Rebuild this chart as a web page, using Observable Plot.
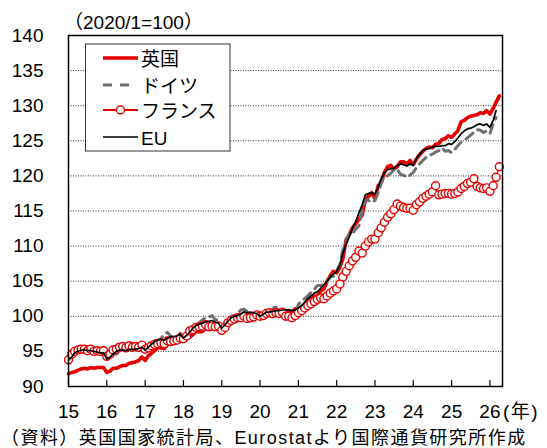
<!DOCTYPE html>
<html><head><meta charset="utf-8">
<script src="https://cdn.jsdelivr.net/npm/d3@7"></script>
<script src="https://cdn.jsdelivr.net/npm/@observablehq/plot@0.6"></script>
<style>
html,body{margin:0;padding:0;background:#fff;}
#wrap{position:relative;width:547px;height:448px;}
#wrap svg{display:block;}
#overlay{position:absolute;left:0;top:0;pointer-events:none;}
</style></head><body>
<div id="wrap"></div>
<script>
// ---- data (monthly, 2015/1 onward, 2020/1 = 100) ----
const seriesNames = ["英国", "ドイツ", "フランス", "EU"];
const yearTicks = [2015,2016,2017,2018,2019,2020,2021,2022,2023,2024,2025,2026];
const yTicks = [90,95,100,105,110,115,120,125,130,135,140];
const gridTicks = [95,100,105,110,115,120,125,130,135];
const unitLabel = "（2020/1=100）";
const yearUnit = "(年)";
const sourceNote = "（資料）英国国家統計局、Eurostatより国際通貨研究所作成";

const uk = [
  91.8, 92.0, 92.1, 92.3, 92.5, 92.6, 92.5, 92.7, 92.6, 92.7, 92.7, 92.7,
  92.0, 92.2, 92.6, 92.6, 92.8, 93.0, 93.0, 93.3, 93.4, 93.5, 93.7, 94.2,
  93.7, 94.4, 94.7, 95.1, 95.5, 95.5, 95.4, 95.9, 96.2, 96.3, 96.7, 96.9,
  96.5, 96.9, 97.0, 97.4, 97.8, 97.8, 97.8, 98.4, 98.5, 98.6, 98.9, 99.0,
  98.2, 98.7, 98.9, 99.4, 99.7, 99.7, 99.8, 100.1, 100.2, 100.1, 100.3, 100.3,
  100.0, 100.4, 100.4, 100.3, 100.3, 100.4, 100.8, 100.4, 100.8, 100.8, 100.6, 101.1,
  100.7, 100.8, 101.1, 101.8, 102.4, 102.9, 102.9, 103.6, 103.9, 105.0, 105.8, 106.4,
  106.2, 107.0, 108.2, 110.9, 111.6, 112.6, 113.2, 113.8, 114.4, 116.6, 117.1, 117.6,
  116.8, 118.6, 119.1, 120.5, 121.3, 121.5, 121.0, 121.3, 122.0, 122.0, 121.7, 122.2,
  121.6, 122.4, 123.0, 123.5, 123.9, 124.1, 124.0, 124.5, 124.6, 125.2, 125.3, 125.7,
  125.5, 126.0, 126.4, 127.7, 127.9, 128.3, 128.5, 128.6, 128.7, 129.0, 128.9, 129.3,
  128.8, 129.6, 130.5, 131.4
];
const germany = [
  93.6, 94.1, 94.6, 94.8, 95.1, 95.3, 95.8, 95.9, 95.1, 94.9, 94.6, 95.0,
  93.8, 94.1, 94.7, 94.6, 95.0, 95.3, 95.9, 96.1, 95.4, 95.3, 95.1, 95.8,
  95.4, 95.8, 96.0, 96.5, 96.6, 96.8, 97.5, 97.7, 97.2, 96.9, 96.8, 97.6,
  96.9, 97.3, 97.7, 98.0, 98.7, 99.1, 99.5, 99.8, 99.9, 100.1, 99.5, 99.5,
  98.3, 98.8, 99.2, 100.0, 100.1, 100.4, 100.9, 101.0, 100.7, 100.6, 100.0, 100.6,
  100.0, 100.4, 100.5, 101.0, 101.2, 101.3, 100.5, 100.4, 100.1, 100.1, 99.9, 100.3,
  101.7, 102.2, 102.5, 102.9, 103.4, 103.8, 104.4, 104.4, 104.5, 105.0, 105.6, 105.7,
  106.5, 107.4, 109.5, 110.6, 111.8, 111.8, 112.4, 112.9, 115.1, 116.6, 116.5, 116.2,
  116.5, 117.6, 118.9, 120.0, 120.0, 120.4, 120.9, 121.0, 120.2, 120.1, 119.8, 120.1,
  120.5, 121.2, 121.7, 122.2, 122.6, 122.9, 123.1, 123.4, 123.6, 124.0, 123.5, 123.6,
  123.3, 123.8, 124.3, 124.8, 125.1, 125.4, 125.8, 126.2, 126.6, 126.5, 126.2, 126.4,
  126.0, 127.4, 128.3, null
];
const france = [
  93.8, 94.6, 95.0, 95.2, 95.3, 95.3, 95.1, 95.3, 95.0, 95.1, 95.0, 95.1,
  94.3, 94.6, 95.2, 95.3, 95.6, 95.7, 95.5, 95.8, 95.6, 95.7, 95.6, 95.9,
  95.3, 95.5, 95.8, 96.0, 96.1, 96.2, 96.1, 96.5, 96.4, 96.5, 96.6, 96.9,
  96.8, 97.2, 97.9, 98.1, 98.4, 98.5, 98.6, 98.8, 98.5, 98.6, 98.5, 98.6,
  98.0, 98.4, 99.1, 99.4, 99.6, 99.8, 99.8, 100.0, 99.7, 99.8, 99.9, 100.2,
  100.0, 100.1, 100.4, 100.5, 100.4, 100.5, 100.4, 100.6, 100.0, 100.0, 99.8, 100.1,
  100.5, 100.8, 101.2, 101.5, 101.8, 102.1, 102.4, 102.6, 102.5, 102.9, 103.3, 103.6,
  103.9, 104.6, 105.6, 106.4, 107.2, 107.9, 108.4, 109.3, 109.0, 110.0, 110.6, 111.0,
  111.0, 111.9, 112.6, 113.4, 114.1, 114.6, 115.2, 116.0, 115.7, 115.5, 115.4, 115.4,
  115.1, 115.9, 116.3, 116.8, 117.1, 117.4, 117.7, 118.6, 117.3, 117.4, 117.5, 117.5,
  117.4, 117.5, 117.7, 118.2, 118.5, 118.9, 119.1, 119.6, 118.5, 118.3, 118.2, 118.3,
  117.8, 118.6, 119.8, 121.3
];
const eu = [
  93.7, 94.2, 94.8, 95.0, 95.2, 95.2, 95.1, 95.1, 95.0, 94.9, 94.8, 94.8,
  93.9, 94.2, 94.6, 95.0, 95.2, 95.2, 95.1, 95.3, 95.3, 95.3, 95.4, 95.6,
  95.2, 95.6, 96.0, 96.4, 96.6, 96.7, 96.6, 96.9, 97.1, 97.1, 97.2, 97.4,
  96.9, 97.3, 97.7, 98.3, 98.7, 98.9, 99.0, 99.2, 99.3, 99.4, 99.2, 99.0,
  98.3, 98.8, 99.3, 99.8, 100.0, 100.1, 100.3, 100.6, 100.5, 100.6, 100.5, 100.4,
  100.0, 100.3, 100.6, 100.6, 100.7, 100.8, 100.8, 100.9, 100.9, 100.9, 100.8, 100.9,
  101.2, 101.5, 102.0, 102.5, 102.9, 103.3, 103.5, 104.0, 104.5, 105.0, 105.6, 106.0,
  106.4, 107.3, 109.0, 110.3, 111.3, 112.6, 113.5, 114.7, 115.9, 117.3, 117.5, 117.6,
  117.4, 118.4, 119.6, 120.4, 120.9, 121.0, 121.1, 121.5, 121.7, 121.6, 121.4, 121.7,
  121.5, 122.5, 123.1, 123.6, 123.8, 123.9, 124.1, 124.2, 124.2, 124.3, 124.3, 124.6,
  124.5, 124.9, 125.4, 126.0, 126.4, 126.7, 126.8, 127.0, 127.3, 127.4, 127.2, 127.4,
  126.9, 127.9, 129.3, null
];

// ---- build tables ----
const monthDate = i => new Date(Date.UTC(2015, i, 1));
const toRows = arr => arr.map((v, i) => ({date: monthDate(i), value: v})).filter(d => d.value != null);
const ukRows = toRows(uk), deRows = toRows(germany), frRows = toRows(france), euRows = toRows(eu);
const xTicks = yearTicks.map(y => new Date(Date.UTC(y, 0, 1)));

const RED = "#e60000", GRAY = "#6f6f6f";
const FONT = "'Liberation Sans', Arial, 'Noto Sans CJK JP', sans-serif";
const tickShape = {draw(context, l) { context.moveTo(0, 0); context.lineTo(0, -l); }};

const chart = Plot.plot({
  width: 547, height: 448,
  marginTop: 35, marginBottom: 62, marginLeft: 68, marginRight: 45,
  style: {fontFamily: FONT, fontSize: "19px", color: "#000", background: "#fff"},
  x: {type: "utc", domain: [monthDate(0), monthDate(136)], label: null},
  y: {domain: [90, 140], label: null},
  marks: [
    Plot.gridY(gridTicks, {stroke: "#333", strokeOpacity: 1, strokeWidth: 1, strokeDasharray: "1,1.5"}),
    Plot.line(ukRows, {x: "date", y: "value", stroke: RED, strokeWidth: 3.6}),
    Plot.line(deRows, {x: "date", y: "value", stroke: GRAY, strokeWidth: 3, strokeDasharray: "9,6"}),
    Plot.line(frRows, {x: "date", y: "value", stroke: RED, strokeWidth: 1.3}),
    Plot.dot(frRows, {x: "date", y: "value", r: 4, fill: "white", stroke: RED, strokeWidth: 1.4}),
    Plot.line(euRows, {x: "date", y: "value", stroke: "#000", strokeWidth: 1.7}),
    Plot.axisY(yTicks, {tickSize: 0, tickPadding: 25, fontSize: 19, label: null}),
    Plot.axisX(xTicks, {tickSize: 0, tickPadding: 18, fontSize: 19, label: null,
      tickFormat: d => String(d.getUTCFullYear() % 100)}),
    Plot.vector(xTicks, {x: d => d, frameAnchor: "bottom", anchor: "start", length: 6, rotate: 0,
      shape: tickShape, stroke: "#000", strokeWidth: 1.2}),
    Plot.frame({stroke: "#000", strokeWidth: 1.5})
  ]
});
const wrap = document.getElementById("wrap");
wrap.appendChild(chart);

// ---- overlay texts and legend ----
const ov = d3.select(wrap).append("svg").attr("id", "overlay")
  .attr("width", 547).attr("height", 448)
  .style("font-family", FONT).style("font-size", "19px");

ov.append("text").attr("x", 64).attr("y", 29).text(unitLabel);
ov.append("text").attr("x", 503).attr("y", 418).attr("letter-spacing", 1.5).text(yearUnit);
ov.append("text").attr("x", 1).attr("y", 444).style("font-size", "18px")
  .attr("letter-spacing", 1.45).text(sourceNote);

const lg = ov.append("g");
lg.append("rect").attr("x", 85.5).attr("y", 44).attr("width", 144.5).attr("height", 107)
  .attr("fill", "white").attr("stroke", "#333").attr("stroke-width", 1);
const rowY = [58, 85, 110, 137];
const styles = [
  {stroke: RED, width: 3.6, dash: null, dot: false, x2: 138},
  {stroke: GRAY, width: 3, dash: "9,8", dot: false, x2: 129},
  {stroke: RED, width: 1.8, dash: null, dot: true, x2: 138},
  {stroke: "#000", width: 1.7, dash: null, dot: false, x2: 138}
];
seriesNames.forEach((name, i) => {
  const s = styles[i], y = rowY[i];
  lg.append("line").attr("x1", 103).attr("x2", s.x2).attr("y1", y).attr("y2", y)
    .attr("stroke", s.stroke).attr("stroke-width", s.width).attr("stroke-dasharray", s.dash);
  if (s.dot) lg.append("circle").attr("cx", 120.5).attr("cy", y).attr("r", 4)
    .attr("fill", "white").attr("stroke", RED).attr("stroke-width", 1.4);
  lg.append("text").attr("x", 141).attr("y", y + 7.8).text(name);
});
</script>
</body></html>
